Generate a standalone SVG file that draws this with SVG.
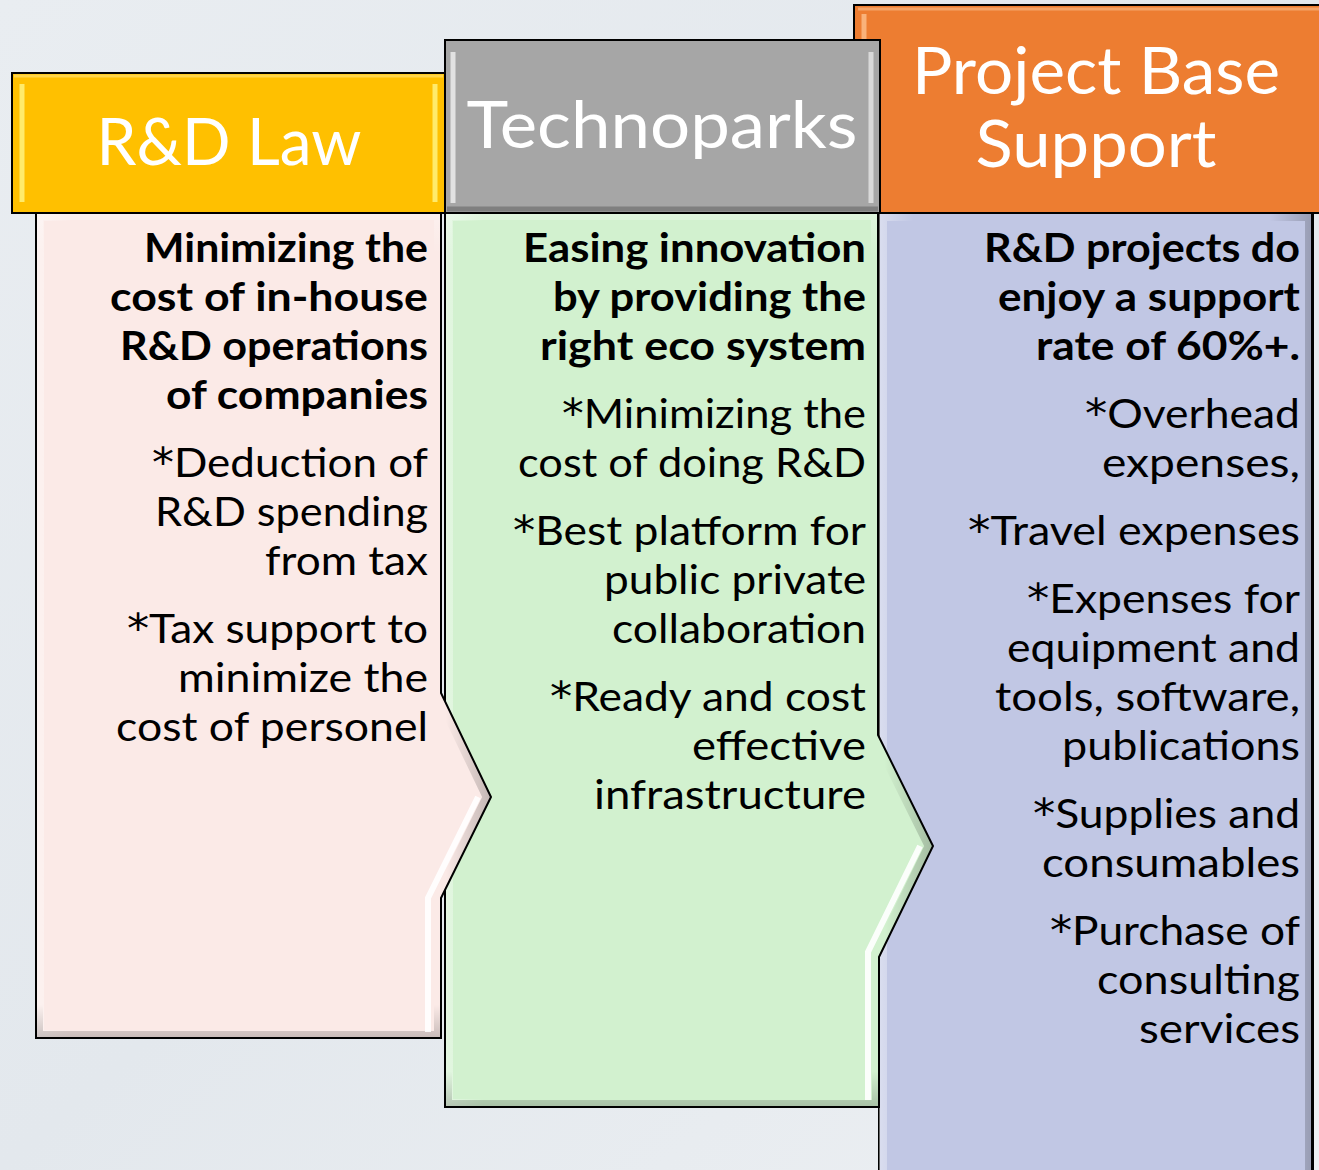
<svg xmlns="http://www.w3.org/2000/svg" width="1319" height="1170" viewBox="0 0 1319 1170">
  <defs>
    <linearGradient id="bg" x1="0" y1="0" x2="1" y2="1">
      <stop offset="0" stop-color="#E9EDF1"/>
      <stop offset="0.5" stop-color="#E3E8ED"/>
      <stop offset="1" stop-color="#EDF0F3"/>
    </linearGradient>
    <linearGradient id="bevel" x1="0" y1="0" x2="1" y2="0">
      <stop offset="0" stop-color="#FFFFFF" stop-opacity="0.4"/>
      <stop offset="0.08" stop-color="#FFFFFF" stop-opacity="0"/>
      <stop offset="0.9" stop-color="#000000" stop-opacity="0"/>
      <stop offset="1" stop-color="#000000" stop-opacity="0.22"/>
    </linearGradient>
    <linearGradient id="bevelV" x1="0" y1="0" x2="0" y2="1">
      <stop offset="0" stop-color="#FFFFFF" stop-opacity="0.3"/>
      <stop offset="0.05" stop-color="#FFFFFF" stop-opacity="0"/>
      <stop offset="0.96" stop-color="#000000" stop-opacity="0"/>
      <stop offset="1" stop-color="#000000" stop-opacity="0.2"/>
    </linearGradient>
    <clipPath id="c1"><path d="M36,213 H441 V693 L491,797 L441,898 V1038 H36 Z"/></clipPath>
    <clipPath id="c2"><path d="M445,213 H878 V735 L933,846 L879,957 V1107 H445 Z"/></clipPath>
    <clipPath id="c3"><rect x="879" y="213" width="434" height="970"/></clipPath>
    <clipPath id="h1"><rect x="12" y="73" width="433" height="140"/></clipPath>
    <clipPath id="h2"><rect x="445" y="40" width="435" height="173"/></clipPath>
    <clipPath id="h3"><rect x="854" y="5" width="480" height="208"/></clipPath>
  </defs>
  <style>
    .outline { stroke: #000000; stroke-width: 2; }
    .bev { fill: none; stroke: url(#bevel); stroke-width: 16; }
    .bevv { fill: none; stroke: url(#bevelV); stroke-width: 14; }
    .hdr { font-family: "Lato", "Liberation Sans", sans-serif; fill: #FFFFFF; text-anchor: middle; font-size: 66px; }
    .body { font-family: "Lato", "Liberation Sans", sans-serif; fill: #000000; text-anchor: end; font-size: 40px; }
    .b { font-weight: 700; }
    .ast { font-family: "DejaVu Sans", sans-serif; font-size: 40px; }
  </style>
  <rect width="1319" height="1170" fill="url(#bg)"/>

  <g id="connectors"></g>

  <g id="body-project">
    <rect x="879" y="213" width="434" height="970" fill="#C1C7E4" class="outline"/>
    <g clip-path="url(#c3)">
      <rect x="879" y="213" width="434" height="970" class="bev"/>
    </g>
    <line x1="1312" y1="213" x2="1312" y2="1170" stroke="#000" stroke-width="2"/>
    <text class="body b" x="1300" y="262" textLength="316" lengthAdjust="spacingAndGlyphs">R&amp;D projects do</text>
    <text class="body b" x="1300" y="311" textLength="302" lengthAdjust="spacingAndGlyphs">enjoy a support</text>
    <text class="body b" x="1300" y="360" textLength="264" lengthAdjust="spacingAndGlyphs">rate of 60%+.</text>
    <text class="body" x="1300" y="428" textLength="215" lengthAdjust="spacingAndGlyphs"><tspan class="ast">*</tspan>Overhead</text>
    <text class="body" x="1300" y="477" textLength="198" lengthAdjust="spacingAndGlyphs">expenses,</text>
    <text class="body" x="1300" y="545" textLength="332" lengthAdjust="spacingAndGlyphs"><tspan class="ast">*</tspan>Travel expenses</text>
    <text class="body" x="1300" y="613" textLength="273" lengthAdjust="spacingAndGlyphs"><tspan class="ast">*</tspan>Expenses for</text>
    <text class="body" x="1300" y="662" textLength="293" lengthAdjust="spacingAndGlyphs">equipment and</text>
    <text class="body" x="1300" y="711" textLength="305" lengthAdjust="spacingAndGlyphs">tools, software,</text>
    <text class="body" x="1300" y="760" textLength="238" lengthAdjust="spacingAndGlyphs">publications</text>
    <text class="body" x="1300" y="828" textLength="267" lengthAdjust="spacingAndGlyphs"><tspan class="ast">*</tspan>Supplies and</text>
    <text class="body" x="1300" y="877" textLength="258" lengthAdjust="spacingAndGlyphs">consumables</text>
    <text class="body" x="1300" y="945" textLength="250" lengthAdjust="spacingAndGlyphs"><tspan class="ast">*</tspan>Purchase of</text>
    <text class="body" x="1300" y="994" textLength="203" lengthAdjust="spacingAndGlyphs">consulting</text>
    <text class="body" x="1300" y="1043" textLength="161" lengthAdjust="spacingAndGlyphs">services</text>
  </g>

  <g id="body-technoparks">
    <path d="M445,213 H878 V735 L933,846 L879,957 V1107 H445 Z" fill="#D2F1CF"/>
    <g clip-path="url(#c2)">
      <path d="M445,213 H878 V735 L933,846 L879,957 V1107 H445 Z" class="bev"/>
      <path d="M445,213 H878 V735 L933,846 L879,957 V1107 H445 Z" class="bevv"/>
      <path d="M920,846 L868,952 V1100" fill="none" stroke="#FFFFFF" stroke-width="6" stroke-opacity="0.9"/>
    </g>
    <path d="M445,213 H878 V735 L933,846 L879,957 V1107 H445 Z" fill="none" class="outline"/>
    <text class="body b" x="866" y="262" textLength="343" lengthAdjust="spacingAndGlyphs">Easing innovation</text>
    <text class="body b" x="866" y="311" textLength="313" lengthAdjust="spacingAndGlyphs">by providing the</text>
    <text class="body b" x="866" y="360" textLength="326" lengthAdjust="spacingAndGlyphs">right eco system</text>
    <text class="body" x="866" y="428" textLength="304" lengthAdjust="spacingAndGlyphs"><tspan class="ast">*</tspan>Minimizing the</text>
    <text class="body" x="866" y="477" textLength="348" lengthAdjust="spacingAndGlyphs">cost of doing R&amp;D</text>
    <text class="body" x="866" y="545" textLength="353" lengthAdjust="spacingAndGlyphs"><tspan class="ast">*</tspan>Best platform for</text>
    <text class="body" x="866" y="594" textLength="262" lengthAdjust="spacingAndGlyphs">public private</text>
    <text class="body" x="866" y="643" textLength="254" lengthAdjust="spacingAndGlyphs">collaboration</text>
    <text class="body" x="866" y="711" textLength="316" lengthAdjust="spacingAndGlyphs"><tspan class="ast">*</tspan>Ready and cost</text>
    <text class="body" x="866" y="760" textLength="174" lengthAdjust="spacingAndGlyphs">effective</text>
    <text class="body" x="866" y="809" textLength="272" lengthAdjust="spacingAndGlyphs">infrastructure</text>
  </g>

  <g id="body-rdlaw">
    <path d="M36,213 H441 V693 L491,797 L441,898 V1038 H36 Z" fill="#FBEAE7"/>
    <g clip-path="url(#c1)">
      <path d="M36,213 H441 V693 L491,797 L441,898 V1038 H36 Z" class="bev"/>
      <path d="M36,213 H441 V693 L491,797 L441,898 V1038 H36 Z" class="bevv"/>
      <path d="M478,797 L428,898 V1032" fill="none" stroke="#FFFFFF" stroke-width="6" stroke-opacity="0.9"/>
    </g>
    <path d="M36,213 H441 V693 L491,797 L441,898 V1038 H36 Z" fill="none" class="outline"/>
    <text class="body b" x="428" y="262" textLength="284" lengthAdjust="spacingAndGlyphs">Minimizing the</text>
    <text class="body b" x="428" y="311" textLength="318" lengthAdjust="spacingAndGlyphs">cost of in-house</text>
    <text class="body b" x="428" y="360" textLength="308" lengthAdjust="spacingAndGlyphs">R&amp;D operations</text>
    <text class="body b" x="428" y="409" textLength="262" lengthAdjust="spacingAndGlyphs">of companies</text>
    <text class="body" x="428" y="477" textLength="276" lengthAdjust="spacingAndGlyphs"><tspan class="ast">*</tspan>Deduction of</text>
    <text class="body" x="428" y="526" textLength="273" lengthAdjust="spacingAndGlyphs">R&amp;D spending</text>
    <text class="body" x="428" y="575" textLength="163" lengthAdjust="spacingAndGlyphs">from tax</text>
    <text class="body" x="428" y="643" textLength="301" lengthAdjust="spacingAndGlyphs"><tspan class="ast">*</tspan>Tax support to</text>
    <text class="body" x="428" y="692" textLength="250" lengthAdjust="spacingAndGlyphs">minimize the</text>
    <text class="body" x="428" y="741" textLength="312" lengthAdjust="spacingAndGlyphs">cost of personel</text>
  </g>

  <g id="header-project">
    <rect x="854" y="5" width="480" height="208" fill="#ED7D31" class="outline"/>
    <g clip-path="url(#h3)">
      <line x1="864" y1="14" x2="864" y2="205" stroke="#F9B27A" stroke-width="5"/>
      <line x1="858" y1="9" x2="1319" y2="9" stroke="#F4A468" stroke-width="3"/>
    </g>
    <text class="hdr" x="1096" y="94" font-size="64" textLength="368" lengthAdjust="spacingAndGlyphs">Project Base</text>
    <text class="hdr" x="1096" y="167" font-size="64" textLength="241" lengthAdjust="spacingAndGlyphs">Support</text>
  </g>

  <g id="header-technoparks">
    <rect x="445" y="40" width="435" height="173" fill="#A6A6A6" class="outline"/>
    <g clip-path="url(#h2)">
      <line x1="453" y1="52" x2="453" y2="203" stroke="#E2E2E2" stroke-width="5"/>
      <line x1="871" y1="52" x2="871" y2="203" stroke="#D9D9D9" stroke-width="5"/>
      <line x1="447" y1="209" x2="878" y2="209" stroke="#7F7F7F" stroke-width="5"/>
    </g>
    <text class="hdr" x="662" y="148" textLength="391" lengthAdjust="spacingAndGlyphs">Technoparks</text>
  </g>

  <g id="header-rdlaw">
    <rect x="12" y="73" width="433" height="140" fill="#FFC000" class="outline"/>
    <g clip-path="url(#h1)">
      <line x1="22" y1="84" x2="22" y2="202" stroke="#FFEB6B" stroke-width="5"/>
      <line x1="435" y1="84" x2="435" y2="202" stroke="#FFEB6B" stroke-width="5"/>
      <line x1="14" y1="76" x2="443" y2="76" stroke="#FFD54A" stroke-width="3"/>
    </g>
    <text class="hdr" x="229" y="165" textLength="265" lengthAdjust="spacingAndGlyphs">R&amp;D Law</text>
  </g>
</svg>
